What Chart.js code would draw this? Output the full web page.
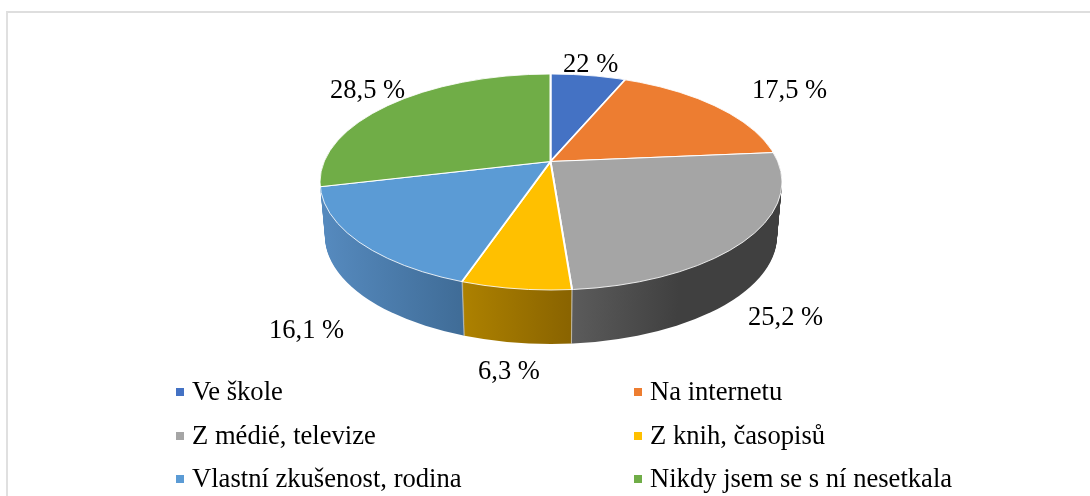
<!DOCTYPE html>
<html>
<head>
<meta charset="utf-8">
<style>
    html, body { margin: 0; padding: 0; background: #fff; overflow: hidden; }
    #wrap { position: relative; width: 1090px; height: 496px; }
    /* frame is cut off at the right and bottom in the original */
    #frame { position: absolute; left: 6px; top: 11px; width: 1084px; height: 485px;
             border-left: 2px solid #e0e0e0; border-top: 2px solid #dedede; box-sizing: border-box; }
    canvas { position: absolute; left: 0; top: 0; }
</style>
</head>
<body>
<div id="wrap">
    <div id="frame"></div>
    <canvas id="pie" width="1090" height="496"></canvas>
</div>
<script src="https://cdn.jsdelivr.net/npm/chart.js@4"></script>
<script>
// Chart data
const categories = ['Ve škole', 'Na internetu', 'Z médié, televize', 'Z knih, časopisů', 'Vlastní zkušenost, rodina', 'Nikdy jsem se s ní nesetkala'];
const shares = [6.2, 17.4, 25.2, 6.3, 16.1, 28.8];          // slice sizes as drawn
const valueLabels = ['22 %', '17,5 %', '25,2 %', '6,3 %', '16,1 %', '28,5 %']; // printed labels
const colors = ['#4472c4', '#ed7d31', '#a5a5a5', '#ffc000', '#5b9bd5', '#70ad47'];

// Look of the fake 3D disc
const rim = { x: 551, y: 182, rx: 231, ry: 108 };
const apex = { x: 550.5, y: 161.5 };
const tilt = 0.45;
const depth = 54;
const taper = 0.0004; // lower edge of the wall is a bit narrower
const wallBands = { // slice index: gradient x from, x to, colour from, colour to
    2: [569, 680, '#5c5c5c', '#404040'],
    3: [462, 569, '#ad8100', '#8a6400'],
    4: [325, 490, '#5589bd', '#3b668f']
};
const labelSpots = [[563, 72], [752, 98], [748, 325], [478, 379], [269, 338], [330, 98]];
const legendSpots = [[176, 400], [634, 400], [176, 444], [634, 444], [176, 487], [634, 487]];
const valueFont = '26.5px "Liberation Serif", serif';
const legendFont = '26.6px "Liberation Serif", serif';

function rimPath(ctx, k) {
    ctx.beginPath();
    ctx.ellipse(rim.x, rim.y, rim.rx * k, rim.ry, 0, 0, Math.PI * 2);
}

// clip to the rim, then squash the oversized pie around the apex
function enterDisc(chart, ctx, shift) {
    const first = chart.getDatasetMeta(0).data[0];
    const k = 1 - shift * taper;
    ctx.save();
    ctx.translate(0, shift);
    rimPath(ctx, k);
    ctx.clip();
    ctx.translate(apex.x, apex.y);
    ctx.scale(k, tilt);
    ctx.translate(-first.x, -first.y);
}

const disc3d = {
    id: 'disc3d',
    beforeDatasetsDraw(chart) {
        const ctx = chart.ctx;
        const arcs = chart.getDatasetMeta(0).data;
        const offsetX = arcs[0].x - apex.x;
        // side wall, back to front, one pixel step at a time
        for (let d = depth; d >= 1; d--) {
            enterDisc(chart, ctx, d);
            Object.keys(wallBands).forEach(i => {
                const band = wallBands[i];
                const grad = ctx.createLinearGradient(band[0] + offsetX, 0, band[1] + offsetX, 0);
                grad.addColorStop(0, band[2]);
                grad.addColorStop(1, band[3]);
                const saved = arcs[i].options;
                arcs[i].options = Object.assign({}, saved, { backgroundColor: grad, borderColor: '#d8d8d8', borderWidth: 1 });
                arcs[i].draw(ctx);
                arcs[i].options = saved;
            });
            ctx.restore();
        }
        enterDisc(chart, ctx, 0);
    },
    afterDatasetsDraw(chart) {
        const ctx = chart.ctx;
        ctx.restore();
        rimPath(ctx, 1);
        ctx.strokeStyle = 'rgba(255,255,255,0.85)';
        ctx.lineWidth = 1;
        ctx.stroke();
    },
    afterDraw(chart) {
        const ctx = chart.ctx;
        ctx.save();
        ctx.fillStyle = '#000';
        ctx.textBaseline = 'alphabetic';
        ctx.font = valueFont;
        valueLabels.forEach((t, i) => ctx.fillText(t, labelSpots[i][0], labelSpots[i][1]));
        ctx.font = legendFont;
        categories.forEach((name, i) => {
            const [x, y] = legendSpots[i];
            ctx.fillStyle = colors[i];
            ctx.fillRect(x, y - 12, 8, 8);
            ctx.fillStyle = '#000';
            ctx.fillText(name, x + 16, y);
        });
        ctx.restore();
    }
};

new Chart(document.getElementById('pie').getContext('2d'), {
    type: 'pie',
    data: {
        labels: categories,
        datasets: [{
            data: shares,
            backgroundColor: colors,
            borderColor: '#ffffff',
            borderWidth: 2,
            clip: false
        }]
    },
    options: {
        responsive: false,
        animation: false,
        radius: 480,
        layout: { padding: 0 },
        plugins: { legend: { display: false }, tooltip: { enabled: false } }
    },
    plugins: [disc3d]
});
</script>
</body>
</html>
